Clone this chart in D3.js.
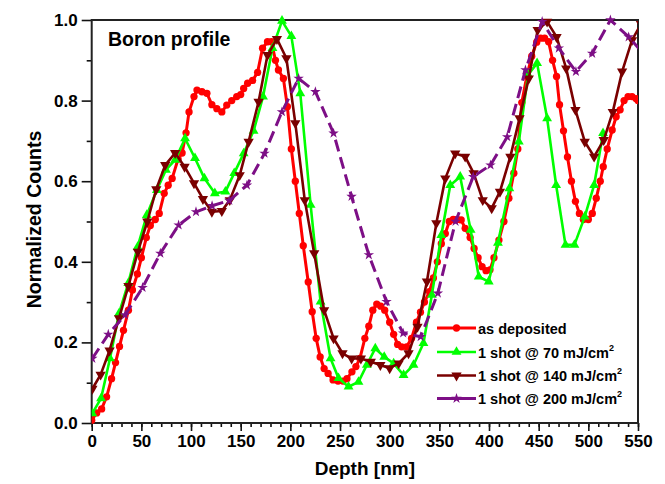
<!DOCTYPE html>
<html>
<head>
<meta charset="utf-8">
<script src="https://cdn.jsdelivr.net/npm/d3@7"></script>
<style>
  body { margin: 0; background: #fff; }
  text { font-family: "Liberation Sans", Arial, sans-serif; font-weight: bold; fill: #000; }
</style>
</head>
<body>
<div class="chart"></div>
<script>
// depth [nm], normalized counts
const asDeposited = [
  [0,0.007],[5,0.025],[10,0.035],[15,0.065],[20,0.11],[24,0.15],[28,0.19],[32,0.23],[37,0.28],[41,0.33],
  [46,0.37],[50,0.41],[55,0.46],[59,0.49],[64,0.505],[68,0.52],[73,0.57],[77,0.59],[81,0.607],[87,0.655],
  [91,0.67],[95,0.72],[98,0.772],[103,0.81],[106,0.826],[111,0.822],[116,0.818],[121,0.79],[126,0.78],[131,0.772],
  [136,0.789],[141,0.80],[146,0.81],[150,0.815],[153,0.83],[157,0.843],[162,0.85],[167,0.87],[172,0.93],[177,0.946],
  [181,0.946],[185,0.90],[188,0.876],[193,0.855],[197,0.785],[201,0.68],[205,0.60],[209,0.52],[213,0.44],[218,0.35],
  [222,0.276],[226,0.21],[230,0.164],[234,0.135],[238,0.123],[243,0.107],[248,0.104],[253,0.104],[257,0.11],[262,0.127],
  [266,0.14],[270,0.16],[275,0.21],[279,0.24],[283,0.28],[287,0.295],[291,0.29],[295,0.28],[300,0.25],[304,0.22],
  [308,0.195],[312,0.189],[317,0.189],[322,0.21],[327,0.25],[331,0.275],[335,0.30],[340,0.326],[344,0.36],[348,0.40],
  [352,0.445],[356,0.47],[360,0.50],[364,0.505],[368,0.505],[372,0.504],[376,0.483],[381,0.46],[385,0.433],[389,0.41],
  [393,0.388],[397,0.378],[401,0.38],[405,0.41],[410,0.454],[415,0.50],[420,0.558],[425,0.62],[429,0.68],[433,0.795],
  [438,0.86],[443,0.91],[448,0.945],[452,0.955],[456,0.955],[460,0.946],[464,0.9],[468,0.86],[471,0.79],[475,0.725],
  [479,0.66],[483,0.60],[487,0.55],[491,0.52],[495,0.505],[500,0.505],[504,0.52],[508,0.558],[512,0.60],[515,0.636],
  [519,0.68],[524,0.727],[528,0.76],[532,0.777],[536,0.80],[540,0.81],[544,0.81],[548,0.805],[550,0.80]
];

const shot70 = [
  [0.6,0.024],[9.4,0.061],[18.4,0.16],[27.5,0.272],[36.8,0.347],[46.2,0.437],[55.5,0.516],[65.6,0.578],[74.7,0.628],[84,0.653],
  [94,0.706],[104,0.657],[113.5,0.607],[124,0.57],[134.6,0.574],[143.5,0.62],[153,0.669],[163,0.725],[172.5,0.81],[182,0.93],
  [191.6,0.998],[201,0.96],[210,0.818],[220.4,0.541],[230.4,0.301],[240.5,0.16],[248.5,0.111],[258.6,0.09],[268.6,0.102],[277,0.144],
  [285.5,0.185],[294.5,0.164],[304,0.148],[314,0.119],[324,0.144],[334,0.198],[342.5,0.318],[352,0.466],[361,0.59],[371,0.611],
  [381.5,0.479],[389.7,0.363],[399.7,0.351],[409,0.447],[420.5,0.582],[430,0.698],[439.4,0.864],[448.4,0.893],[458.5,0.756],[467.6,0.59],
  [477,0.442],[486,0.442],[496.4,0.512],[505.8,0.59],[514.8,0.719]
];

const shot140 = [
  [0.7,0.085],[9,0.12],[18,0.18],[27.5,0.26],[37,0.34],[46.5,0.425],[56,0.50],[65,0.58],[74,0.64],[84,0.67],
  [93.5,0.636],[103,0.595],[112,0.556],[121,0.524],[131,0.526],[139,0.553],[149,0.615],[158,0.698],[168,0.797],[177,0.913],
  [186.5,0.953],[196,0.905],[205,0.744],[214.5,0.553],[224,0.421],[234,0.28],[243.5,0.21],[252.5,0.173],[261.7,0.16],[271,0.16],
  [281,0.152],[290.6,0.144],[300,0.136],[309,0.148],[319,0.173],[328,0.239],[337.5,0.351],[347,0.496],[356,0.607],[366,0.669],
  [376,0.661],[384.5,0.62],[393.7,0.553],[402.7,0.533],[411,0.574],[421.5,0.661],[430.7,0.756],[440,0.855],[449,0.975],[458.5,0.996],
  [468,0.958],[477.7,0.88],[487,0.777],[496.4,0.698],[505.8,0.661],[515.5,0.702],[524.6,0.772],[534,0.872],[544,0.95],[553,0.99]
];

const shot200 = [
  [0.6,0.16],[16.7,0.22],[33.6,0.268],[51.2,0.336],[69.1,0.421],[87.5,0.491],[105,0.524],[121.2,0.539],[138.5,0.552],[156.3,0.59],
  [174,0.669],[191.5,0.772],[208.3,0.855],[225.2,0.822],[243.5,0.719],[261.6,0.562],[279,0.417],[296.8,0.301],[313.6,0.223],[331.2,0.214],
  [348.5,0.322],[366.3,0.50],[384.1,0.611],[401.5,0.64],[418.3,0.71],[436.7,0.876],[453.5,0.996],[470.3,0.93],[487.5,0.872],[503.8,0.917],
  [522.2,1.0],[540.6,0.958],[558,0.91]
];

const seriesNames = ["as deposited", "1 shot @ 70 mJ/cm", "1 shot @ 140 mJ/cm", "1 shot @ 200 mJ/cm"];
const xTicks = [0, 50, 100, 150, 200, 250, 300, 350, 400, 450, 500, 550];
const yTicks = [0.0, 0.2, 0.4, 0.6, 0.8, 1.0];

class ProfileChart {

    constructor() {
        this.width = 665;
        this.height = 484;
        this.margin = {top: 20, right: 27, bottom: 61, left: 91.7};

        this.x = d3.scaleLinear().domain([0, 550]).range([this.margin.left, this.width - this.margin.right]);
        this.y = d3.scaleLinear().domain([0, 1]).range([this.height - this.margin.bottom, this.margin.top]);

        this.series = [
            {name: seriesNames[0], data: asDeposited, color: "#ff0000", symbol: d3.symbolCircle, size: 42, rotate: 0, width: 3, dash: null, sup: false},
            {name: seriesNames[1], data: shot70, color: "#00ff00", symbol: d3.symbolTriangle, size: 42, rotate: 0, width: 2.6, dash: null, sup: true},
            {name: seriesNames[2], data: shot140, color: "#7a0000", symbol: d3.symbolTriangle, size: 46, rotate: 180, width: 2.6, dash: null, sup: true},
            {name: seriesNames[3], data: shot200, color: "#7d0f86", symbol: d3.symbolStar, size: 34, rotate: 0, width: 3, dash: "12,6", sup: true}
        ];

        this.svg = d3.select(".chart").append("svg")
            .attr("width", this.width)
            .attr("height", this.height);

        this.drawAxes();
        this.drawSeries();
        this.drawLegend();
    }

    drawAxes() {
        let svg = this.svg;
        let x0 = this.x.range()[0], x1 = this.x.range()[1];
        let y0 = this.y.range()[0], y1 = this.y.range()[1];

        svg.append("g").attr("transform", `translate(0,${y0})`)
            .call(d3.axisBottom(this.x).tickValues(d3.range(0, 551, 10)).tickSize(4).tickFormat(""));
        svg.append("g").attr("transform", `translate(0,${y0})`)
            .call(d3.axisBottom(this.x).tickValues(xTicks).tickSize(8).tickPadding(4).tickFormat(d3.format("d")))
            .selectAll("text").style("font-size", "17px");

        svg.append("g").attr("transform", `translate(${x0},0)`)
            .call(d3.axisLeft(this.y).tickValues(d3.range(0.1, 1, 0.2)).tickSize(5).tickFormat(""));
        svg.append("g").attr("transform", `translate(${x0},0)`)
            .call(d3.axisLeft(this.y).tickValues(yTicks).tickSize(10).tickPadding(4).tickFormat(d3.format(".1f")))
            .selectAll("text").style("font-size", "17px");

        svg.selectAll(".domain").remove();
        svg.selectAll(".tick line").attr("stroke", "#111").attr("stroke-width", 1.6);

        svg.append("rect")
            .attr("x", x0).attr("y", y1)
            .attr("width", x1 - x0).attr("height", y0 - y1)
            .attr("fill", "none").attr("stroke", "#222").attr("stroke-width", 2);

        svg.append("text")
            .attr("x", (x0 + x1) / 2).attr("y", 475)
            .attr("text-anchor", "middle")
            .style("font-size", "19px")
            .text("Depth [nm]");

        svg.append("text")
            .attr("transform", `translate(41,${(y0 + y1) / 2 - 2}) rotate(-90)`)
            .attr("text-anchor", "middle")
            .style("font-size", "19.5px")
            .text("Normalized Counts");

        svg.append("text")
            .attr("x", 108).attr("y", 46)
            .style("font-size", "19.5px")
            .text("Boron profile");

        svg.append("clipPath").attr("id", "plot-clip")
            .append("rect")
            .attr("x", x0).attr("y", y1 - 6)
            .attr("width", x1 - x0).attr("height", y0 - y1 + 12);
    }

    drawSeries() {
        let line = d3.line().x(d => this.x(d[0])).y(d => this.y(d[1]));
        let plot = this.svg.append("g").attr("clip-path", "url(#plot-clip)");

        for (let s of this.series) {
            let g = plot.append("g");
            g.append("path")
                .datum(s.data)
                .attr("d", line)
                .attr("fill", "none")
                .attr("stroke", s.color)
                .attr("stroke-width", s.width)
                .attr("stroke-linejoin", "round")
                .attr("stroke-dasharray", s.dash);

            g.selectAll("path.mark")
                .data(s.data)
                .join("path")
                .attr("class", "mark")
                .attr("d", d3.symbol().type(s.symbol).size(s.size))
                .attr("transform", d => `translate(${this.x(d[0])},${this.y(d[1])}) rotate(${s.rotate})`)
                .attr("fill", s.color);
        }
    }

    drawLegend() {
        let rowY = [328, 352, 375.5, 398.5];
        let legend = this.svg.append("g");

        this.series.forEach((s, i) => {
            let row = legend.append("g").attr("transform", `translate(0,${rowY[i]})`);
            row.append("line")
                .attr("x1", 437).attr("x2", 476)
                .attr("stroke", s.color)
                .attr("stroke-width", s.width);
            row.append("path")
                .attr("d", d3.symbol().type(s.symbol).size(s.size))
                .attr("transform", `translate(456.5,0) rotate(${s.rotate})`)
                .attr("fill", s.color);
            let t = row.append("text")
                .attr("x", 478).attr("y", 5.5)
                .style("font-size", "14.5px")
                .text(s.name);
            if (s.sup) {
                t.append("tspan")
                    .attr("dy", -7)
                    .style("font-size", "9px")
                    .text("2");
            }
        });
    }
}

new ProfileChart();
</script>
</body>
</html>
